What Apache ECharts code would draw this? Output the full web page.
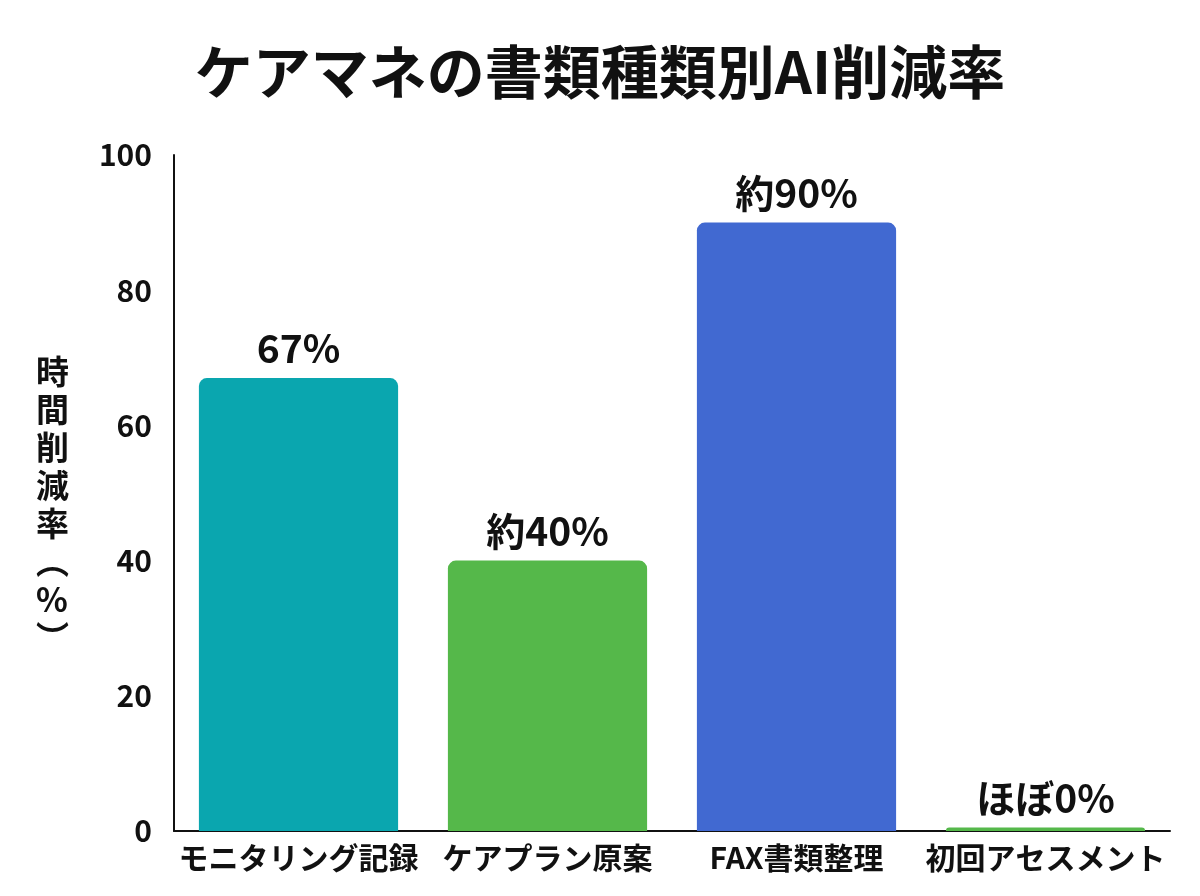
<!DOCTYPE html>
<html><head><meta charset="utf-8">
<script src="https://cdn.jsdelivr.net/npm/echarts@6/dist/echarts.min.js"></script>
<style>html,body{margin:0;padding:0;background:#fff}#c{width:1200px;height:896px}</style>
</head><body><div id="c"></div>
<script>
const titleText = 'ケアマネの書類種類別AI削減率';
const categories = ['モニタリング記録', 'ケアプラン原案', 'FAX書類整理', '初回アセスメント'];
const values = [67, 40, 90, 0.5];
const valueLabels = ['67%', '約40%', '約90%', 'ほぼ0%'];
const colors = ['#0AA6AF', '#55B84A', '#4169D1', '#55B84A'];
const yTicks = [0, 20, 40, 60, 80, 100];
const yName = ['時','間','削','減','率','︵','%','︶'];

const FONT = '"Noto Sans CJK JP", "Noto Sans", sans-serif';
const chart = echarts.init(document.getElementById('c'));
chart.setOption({
  animation: false,
  textStyle: {fontFamily: FONT},
  title: {text: titleText, left: 'center', top: 38,
    textStyle: {fontSize: 58, fontWeight: 'bold', color: '#111', fontFamily: FONT}},
  grid: {left: 174, right: 30, top: 155, bottom: 65, containLabel: false},
  xAxis: {type: 'category', data: categories,
    axisLine: {lineStyle: {color: '#111', width: 2}},
    axisTick: {show: false},
    axisLabel: {fontSize: 30, fontWeight: 'bold', color: '#111', margin: 12, interval: 0}},
  yAxis: {type: 'value', min: yTicks[0], max: yTicks[yTicks.length-1], interval: 20,
    axisLine: {show: true, lineStyle: {color: '#111', width: 2}},
    axisTick: {show: false}, splitLine: {show: false},
    axisLabel: {fontSize: 30, fontWeight: 'bold', color: '#111', margin: 22}},
  graphic: [{type: 'text', left: 36, top: 352,
    style: {text: yName.join('\n'), font: 'bold 33px ' + FONT, fill: '#111',
      lineHeight: 38, align: 'center'}}],
  series: [{type: 'bar', barWidth: '80%',
    data: values.map((v, i) => ({value: v, itemStyle: {color: colors[i], borderRadius: [8, 8, 0, 0]}})),
    label: {show: true, position: 'top', distance: 10, fontSize: 39, fontWeight: 'bold', color: '#111',
      formatter: p => valueLabels[p.dataIndex]}}]
});
</script></body></html>
